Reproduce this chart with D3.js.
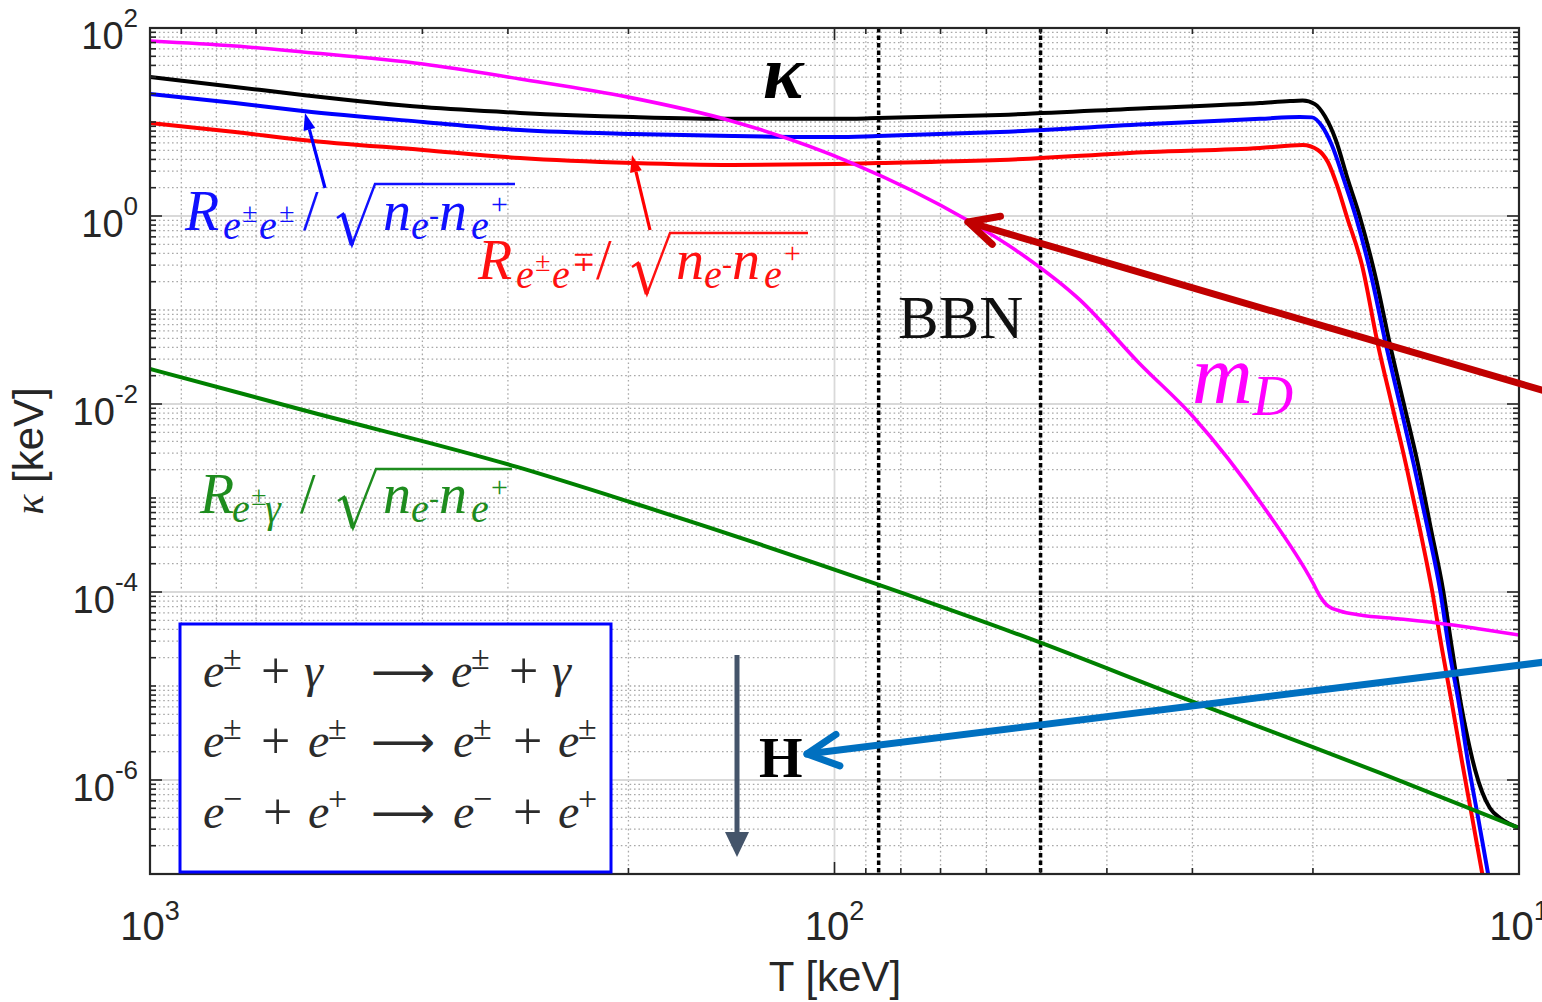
<!DOCTYPE html>
<html>
<head>
<meta charset="utf-8">
<script src="https://cdn.jsdelivr.net/npm/d3@7"></script>
<style>
  body { margin: 0; background: #fff; }
  svg { display: block; }
</style>
</head>
<body>
<script>
// values; T in keV, the x axis runs from 1000 down to 10
var kappaT = [1000, 751, 598, 399, 288, 197, 141, 99.5, 86.4, 57.3, 34.6, 23.9, 21.6, 20.7, 19.87, 19.21, 18.52, 17.78, 17.08, 16.23,
              15.43, 14.72, 14.04, 13.44, 12.91, 12.52, 12.15, 11.87, 11.59, 11.32, 11.03, 10.66, 10.31, 10.0];
var kappaV = [30.1, 23.6, 19.4, 14.4, 12.5, 11.3, 10.8, 10.8, 11.0, 11.9, 14.1, 15.9, 16.7, 16.9, 15.5, 11.5, 6.44, 2.42, 0.976, 0.236,
              0.0424, 0.00976, 0.00224, 4.57e-4, 1.05e-4, 2.42e-5, 6.28e-6, 2.66e-6, 1.28e-6, 7.45e-7, 5.04e-7, 3.94e-7, 3.40e-7, 3.09e-7];

// R(e± e±)/sqrt(n n)
var sameT = [1000, 751, 598, 399, 288, 197, 141, 99.5, 86.4, 57.3, 34.6, 23.9, 20.9, 20.06, 19.41, 18.77, 18.02, 17.31, 16.45, 15.64,
             14.92, 14.24, 13.58, 13.04, 12.65, 12.23, 11.87, 11.48, 11.10, 10.88];
var sameV = [19.9, 15.9, 13.1, 10.0, 8.22, 7.45, 7.10, 6.92, 7.10, 7.83, 9.52, 10.8, 11.3, 11.2, 9.07, 5.69, 2.42, 0.976, 0.236, 0.0424,
             0.00976, 0.00224, 4.57e-4, 1.05e-4, 2.42e-5, 6.28e-6, 1.55e-6, 4.04e-7, 1.02e-7, 4.68e-8];

// R(e± e∓)/sqrt(n n)
var oppT = [1000, 751, 598, 399, 288, 197, 141, 99.5, 86.4, 57.3, 34.6, 23.9, 20.7, 19.67, 19.02, 18.45, 17.84, 16.96, 16.07, 15.33,
            14.62, 13.95, 13.40, 12.95, 12.52, 12.11, 11.71, 11.32, 11.10];
var oppV = [9.76, 7.83, 6.44, 5.04, 4.14, 3.66, 3.49, 3.57, 3.66, 3.94, 4.80, 5.29, 5.69, 5.04, 3.75, 2.14, 0.976, 0.301, 0.0424, 0.00976,
            0.00224, 4.57e-4, 1.05e-4, 2.42e-5, 6.28e-6, 1.55e-6, 4.04e-7, 1.02e-7, 4.68e-8];

// Debye mass
var mdT = [1000, 751, 598, 399, 288, 201, 141, 94.3, 64.0, 53.6, 43.8, 35.9, 29.9, 23.6, 20.0, 19.54, 19.02, 18.27, 17.08, 14.92, 13.17, 11.40, 10.0];
var mdV = [72.7, 64.3, 55.6, 41.4, 28.7, 18.5, 10.2, 3.66, 0.906, 0.404, 0.128, 0.0273, 0.00727, 8.02e-4, 1.25e-4, 9.07e-5, 7.10e-5, 6.28e-5,
           5.69e-5, 5.16e-5, 4.68e-5, 4.04e-5, 3.49e-5];

// R(e± γ)/sqrt(n n)
var gamT = [1000, 598, 291, 199, 86.1, 53.6, 29.9, 20.0, 15.96, 10.0];
var gamV = [0.0236, 0.00863, 0.00214, 9.07e-4, 1.19e-4, 3.49e-5, 6.76e-6, 2.24e-6, 1.19e-6, 3.09e-7];

var bbnT = [86.2, 50];
var xTickExp = [3, 2, 1];
var yTickExp = [2, 0, -2, -4, -6];

var width = 1542, height = 1002;
var pl = 150, pr = 1519, pt = 28, pb = 874;
var serif = '"Liberation Serif","DejaVu Serif",serif';
var sans = '"Liberation Sans",Arial,sans-serif';

var svg = d3.select('body').append('svg').attr('width', width).attr('height', height);
svg.append('rect').attr('width', width).attr('height', height).attr('fill', '#fff');

var x = d3.scaleLog().domain([1000, 10]).range([pl, pr]);
var y = d3.scaleLog().domain([1e-7, 1e2]).range([pb, pt]);

// grid
var xMinor = [], xMajor = [100];
[10, 100].forEach(function(b) { for (var k = 2; k <= 9; k++) xMinor.push(k * b); });
var yMinor = [], yMajor = [];
for (var n = -7; n <= 1; n++) {
  for (var k = 1; k <= 9; k++) {
    var v = k * Math.pow(10, n);
    if (k == 1 && n % 2 == 0) { yMajor.push(v); continue; }
    if (k == 1 && n == -7) continue;
    yMinor.push(v);
  }
}

var grid = svg.append('g');
grid.selectAll('.xmin').data(xMinor).enter().append('line')
  .attr('x1', d => x(d)).attr('x2', d => x(d)).attr('y1', pt).attr('y2', pb)
  .attr('stroke', '#a8a8a8').attr('stroke-width', 1.3).attr('stroke-dasharray', '1.6,2.8');
grid.selectAll('.ymin').data(yMinor).enter().append('line')
  .attr('y1', d => y(d)).attr('y2', d => y(d)).attr('x1', pl).attr('x2', pr)
  .attr('stroke', '#a8a8a8').attr('stroke-width', 1.3).attr('stroke-dasharray', '1.6,2.8');
grid.selectAll('.xmaj').data(xMajor).enter().append('line')
  .attr('x1', d => x(d)).attr('x2', d => x(d)).attr('y1', pt).attr('y2', pb)
  .attr('stroke', '#d9d9d9').attr('stroke-width', 1.8);
grid.selectAll('.ymaj').data(yMajor).enter().append('line')
  .attr('y1', d => y(d)).attr('y2', d => y(d)).attr('x1', pl).attr('x2', pr)
  .attr('stroke', '#d9d9d9').attr('stroke-width', 1.8);

// BBN window
svg.selectAll('.bbn').data(bbnT).enter().append('line')
  .attr('x1', d => x(d)).attr('x2', d => x(d)).attr('y1', pt).attr('y2', pb)
  .attr('stroke', '#000').attr('stroke-width', 3.5).attr('stroke-dasharray', '4.5,3');

// curves
svg.append('clipPath').attr('id', 'plotclip').append('rect')
  .attr('x', pl).attr('y', pt).attr('width', pr - pl).attr('height', pb - pt);
var curves = svg.append('g').attr('clip-path', 'url(#plotclip)');
var line = d3.line().x(d => x(d[0])).y(d => y(d[1])).curve(d3.curveMonotoneX);
function series(T, V, color, w) {
  curves.append('path').datum(d3.zip(T, V)).attr('d', line)
    .attr('fill', 'none').attr('stroke', color).attr('stroke-width', w)
    .attr('stroke-linejoin', 'round');
}
series(kappaT, kappaV, '#000000', 4);
series(sameT, sameV, '#0000ff', 4);
series(oppT, oppV, '#ff0000', 4);
series(gamT, gamV, '#008000', 4);
series(mdT, mdV, '#ff00ff', 3.6);

// axes box and ticks
var axis = svg.append('g').attr('stroke', '#262626');
var yTicks = [];
for (var n2 = -7; n2 <= 2; n2++) {
  for (var k2 = 1; k2 <= 9; k2++) {
    if (n2 == 2 && k2 > 1) break;
    yTicks.push({ v: k2 * Math.pow(10, n2), major: k2 == 1 && n2 % 2 == 0 });
  }
}
var xTicks = [{ v: 1000, major: true }];
[100, 10].forEach(function(b) {
  for (var k = 9; k >= 2; k--) xTicks.push({ v: k * b, major: false });
  xTicks.push({ v: b, major: true });
});
yTicks.forEach(function(t) {
  var len = t.major ? 12 : 6, yy = y(t.v);
  axis.append('line').attr('x1', pl).attr('x2', pl + len).attr('y1', yy).attr('y2', yy).attr('stroke-width', 1.6);
  axis.append('line').attr('x1', pr).attr('x2', pr - len).attr('y1', yy).attr('y2', yy).attr('stroke-width', 1.6);
});
xTicks.forEach(function(t) {
  var len = t.major ? 12 : 6, xx = x(t.v);
  axis.append('line').attr('x1', xx).attr('x2', xx).attr('y1', pt).attr('y2', pt + len).attr('stroke-width', 1.6);
  axis.append('line').attr('x1', xx).attr('x2', xx).attr('y1', pb).attr('y2', pb - len).attr('stroke-width', 1.6);
});
axis.append('rect').attr('x', pl).attr('y', pt).attr('width', pr - pl).attr('height', pb - pt)
  .attr('fill', 'none').attr('stroke-width', 2.2);

// tick labels
yTickExp.forEach(function(e) {
  var t = svg.append('text').attr('x', 138).attr('y', y(Math.pow(10, e)) + 21)
    .attr('text-anchor', 'end').attr('font-family', sans).attr('font-size', 38).attr('fill', '#262626');
  t.append('tspan').text('10');
  t.append('tspan').attr('dy', -22).attr('font-size', 26).text(e);
});
xTickExp.forEach(function(e) {
  var t = svg.append('text').attr('x', x(Math.pow(10, e))).attr('y', 940)
    .attr('text-anchor', 'middle').attr('font-family', sans).attr('font-size', 40).attr('fill', '#262626');
  t.append('tspan').text('10');
  t.append('tspan').attr('dy', -20).attr('font-size', 27).text(e);
});

// axis titles
svg.append('text').attr('x', 835).attr('y', 991).attr('text-anchor', 'middle')
  .attr('font-family', sans).attr('font-size', 42).attr('fill', '#262626').text('T [keV]');
var yl = svg.append('text').attr('transform', 'translate(43,451) rotate(-90)').attr('text-anchor', 'middle')
  .attr('font-family', sans).attr('font-size', 42).attr('fill', '#262626');
yl.append('tspan').attr('font-family', serif).attr('font-style', 'italic').text('κ');
yl.append('tspan').text(' [keV]');

// helpers for annotations: one text element, each glyph group placed by its own x/y
function mathText(g, list, color) {
  var t = g.append('text').attr('font-family', serif).attr('fill', color);
  list.forEach(function(p) {
    t.append('tspan').attr('x', p[0]).attr('y', p[3]).attr('font-size', p[2])
      .attr('font-style', p[4] === false ? 'normal' : 'italic').text(p[1]);
  });
}
function radical(g, r, end, h, color) {
  g.append('path').attr('d', 'M' + r + ',-12L' + (r + 6) + ',-16L' + (r + 15) + ',15L' + (r + 38) + ',' + (-h) + 'L' + end + ',' + (-h))
    .attr('fill', 'none').attr('stroke', color).attr('stroke-width', 2.4).attr('stroke-linejoin', 'miter');
  g.append('path').attr('d', 'M' + (r + 6) + ',-16L' + (r + 15) + ',15')
    .attr('stroke', color).attr('stroke-width', 4.5);
}
function triArrow(x1, y1, x2, y2, len, half, w, color) {
  var a = Math.atan2(y2 - y1, x2 - x1);
  var bx = x2 - len * Math.cos(a), by = y2 - len * Math.sin(a);
  var px = -Math.sin(a) * half, py = Math.cos(a) * half;
  svg.append('line').attr('x1', x1).attr('y1', y1).attr('x2', bx).attr('y2', by)
    .attr('stroke', color).attr('stroke-width', w);
  svg.append('path').attr('d', 'M' + x2 + ',' + y2 + 'L' + (bx + px) + ',' + (by + py) + 'L' + (bx - px) + ',' + (by - py) + 'Z')
    .attr('fill', color);
}
function chevArrow(x1, y1, x2, y2, len, ang, w, color) {
  var a = Math.atan2(y1 - y2, x1 - x2);
  svg.append('line').attr('x1', x1).attr('y1', y1).attr('x2', x2).attr('y2', y2)
    .attr('stroke', color).attr('stroke-width', w).attr('stroke-linecap', 'round');
  svg.append('path')
    .attr('d', 'M' + (x2 + len * Math.cos(a + ang)) + ',' + (y2 + len * Math.sin(a + ang)) + 'L' + x2 + ',' + y2 +
               'L' + (x2 + len * Math.cos(a - ang)) + ',' + (y2 + len * Math.sin(a - ang)))
    .attr('fill', 'none').attr('stroke', color).attr('stroke-width', w)
    .attr('stroke-linecap', 'round').attr('stroke-linejoin', 'round');
}

// curve labels
var blueLab = svg.append('g').attr('transform', 'translate(185,230)');
mathText(blueLab, [[0, 'R', 56, 0], [38, 'e', 40, 9], [57, '±', 28, -8], [74, 'e', 40, 9], [94, '±', 28, -8],
                   [118, '/', 56, 0, false], [198, 'n', 56, 0], [226, 'e', 40, 9], [244, '-', 30, -5, false],
                   [254, 'n', 56, 0], [286, 'e', 40, 9], [306, '+', 30, -16, false]], '#1010ff');
radical(blueLab, 152, 330, 46, '#1010ff');
triArrow(325, 188, 305, 113, 17, 6, 3.2, '#0000ff');

var redLab = svg.append('g').attr('transform', 'translate(478,279)');
mathText(redLab, [[0, 'R', 56, 0], [38, 'e', 40, 9], [57, '±', 28, -8], [74, 'e', 40, 9], [94, '∓', 28, -8],
                  [118, '/', 56, 0, false], [198, 'n', 56, 0], [226, 'e', 40, 9], [244, '-', 30, -5, false],
                  [254, 'n', 56, 0], [286, 'e', 40, 9], [306, '+', 30, -16, false]], '#ff1010');
radical(redLab, 154, 330, 46, '#ff1010');
triArrow(650, 230, 632, 155, 17, 6, 3.2, '#ff0000');

var greenLab = svg.append('g').attr('transform', 'translate(200,513)');
mathText(greenLab, [[0, 'R', 56, 0], [32, 'e', 40, 9], [51, '±', 28, -8], [65, 'γ', 40, 9],
                    [100, '/', 56, 0, false], [183, 'n', 56, 0], [211, 'e', 40, 9], [229, '-', 30, -5, false],
                    [239, 'n', 56, 0], [271, 'e', 40, 9], [291, '+', 30, -16, false]], '#1e8c1e');
radical(greenLab, 138, 312, 44, '#1e8c1e');

// kappa, m_D, BBN
svg.append('text').attr('x', 763).attr('y', 98).attr('font-family', serif).attr('font-size', 76)
  .attr('font-style', 'italic').attr('font-weight', 'bold').attr('fill', '#000').text('κ');
var md = svg.append('text').attr('x', 1192).attr('y', 403).attr('font-family', serif)
  .attr('font-style', 'italic').attr('fill', '#ff00ff');
md.append('tspan').attr('font-size', 84).text('m');
md.append('tspan').attr('font-size', 56).attr('dy', 12).text('D');
svg.append('text').attr('x', 898).attr('y', 338).attr('font-family', serif).attr('font-size', 61)
  .attr('fill', '#111').text('BBN');

// big pointer arrows
chevArrow(1545, 391, 968, 222, 33, 0.46, 7, '#c00000');
chevArrow(1545, 662, 807, 754, 35, 0.47, 7, '#0070c0');
svg.append('text').attr('x', 759).attr('y', 777).attr('font-family', serif).attr('font-size', 56)
  .attr('font-weight', 'bold').attr('fill', '#000').text('H');
triArrow(737, 655, 737, 857, 25, 12, 5, '#44546a');

// reaction box
svg.append('rect').attr('x', 180).attr('y', 624).attr('width', 431).attr('height', 248)
  .attr('fill', '#fff').attr('stroke', '#0000ff').attr('stroke-width', 3);
var rx = [
  { y: 687, items: [[203, 'e'], [223, '±', 's'], [261, '+', 'r'], [304, 'γ'], [451, 'e'], [471, '±', 's'], [509, '+', 'r'], [552, 'γ']] },
  { y: 757, items: [[203, 'e'], [223, '±', 's'], [261, '+', 'r'], [308, 'e'], [328, '±', 's'], [453, 'e'], [473, '±', 's'], [513, '+', 'r'], [558, 'e'], [578, '±', 's']] },
  { y: 828, items: [[203, 'e'], [223, '−', 's'], [263, '+', 'r'], [308, 'e'], [328, '+', 's'], [453, 'e'], [473, '−', 's'], [513, '+', 'r'], [558, 'e'], [578, '+', 's']] }
];
var box = svg.append('g').attr('fill', '#2b2b2b').attr('font-family', serif);
rx.forEach(function(row) {
  var t = box.append('text');
  row.items.forEach(function(it) {
    var s = t.append('tspan').attr('x', it[0]).text(it[1]);
    if (it[2] == 's') s.attr('y', row.y - 18).attr('font-size', 34);
    else if (it[2] == 'r') s.attr('y', row.y + 1).attr('font-size', 52);
    else s.attr('y', row.y).attr('font-size', 48).attr('font-style', 'italic');
  });
  box.append('text').attr('x', 371).attr('y', row.y).attr('font-family', '"DejaVu Sans",sans-serif')
    .attr('font-size', 44).attr('textLength', 64).attr('lengthAdjust', 'spacingAndGlyphs').text('⟶');
});
</script>
</body>
</html>
